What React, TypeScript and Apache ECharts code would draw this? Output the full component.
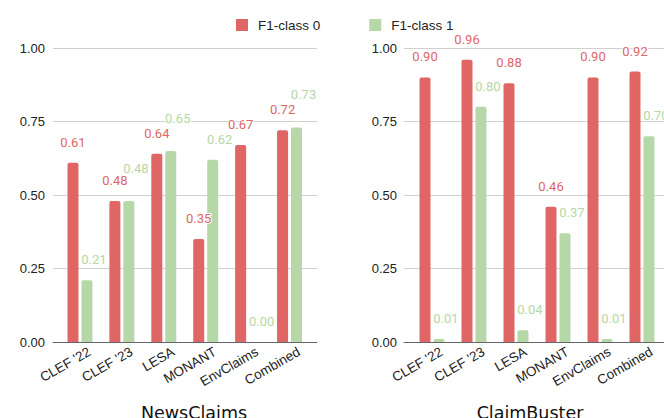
import React, { useEffect, useRef } from "react";
import * as echarts from "echarts";

const categories = ["CLEF '22", "CLEF '23", "LESA", "MONANT", "EnvClaims", "Combined"];
const seriesNames = ["F1-class 0", "F1-class 1"];
const newsClass0 = [0.61, 0.48, 0.64, 0.35, 0.67, 0.72];
const newsClass1 = [0.21, 0.48, 0.65, 0.62, 0.0, 0.73];
const busterClass0 = [0.9, 0.96, 0.88, 0.46, 0.9, 0.92];
const busterClass1 = [0.01, 0.8, 0.04, 0.37, 0.01, 0.7];
const panelTitles = ["NewsClaims", "ClaimBuster"];

const RED = "#e06666";
const GREEN = "#b6d7a8";
const AXIS_FONT = "'Liberation Sans', Arial, sans-serif";

export default function App() {
  const ref = useRef<HTMLDivElement>(null);
  useEffect(() => {
    document.body.style.margin = "0";
    const chart = echarts.init(ref.current!, null, { renderer: "svg" });

    const gridA = [
      { left: 53, width: 264, top: 48, height: 294 },
      { left: 404, width: 290, top: 48, height: 294 },
    ];
    const gridB = [
      { left: 59, width: 251.5, top: 48, height: 294 },
      { left: 411, width: 252, top: 48, height: 294 },
    ];
    const grids = [gridA[0], gridB[0], gridA[1], gridB[1]];

    const xAxes: any[] = [];
    const yAxes: any[] = [];
    [0, 1].forEach((p) => {
      xAxes.push({
        type: "category",
        gridIndex: p * 2,
        data: categories,
        axisLine: { show: true, lineStyle: { color: "#666", width: 1 } },
        axisTick: { show: false },
        axisLabel: { show: false },
        splitLine: { show: false },
      });
      yAxes.push({
        type: "value",
        gridIndex: p * 2,
        min: 0,
        max: 1,
        interval: 0.25,
        axisLine: { show: false },
        axisTick: { show: false },
        splitLine: { show: true, lineStyle: { color: "#d0d0d0", width: 1 } },
        axisLabel: {
          color: "#222",
          fontSize: 13,
          fontFamily: AXIS_FONT,
          margin: p === 0 ? 8 : 7,
          formatter: (v: number) => v.toFixed(2),
        },
      });
      xAxes.push({
        type: "category",
        gridIndex: p * 2 + 1,
        data: categories,
        axisLine: { show: false },
        axisTick: { show: false },
        splitLine: { show: false },
        axisLabel: {
          color: "#222",
          fontSize: 13.5,
          fontFamily: AXIS_FONT,
          rotate: 30,
          margin: 14,
          interval: 0,
          padding: [0, -11, 0, 0],
        },
      });
      yAxes.push({
        type: "value",
        gridIndex: p * 2 + 1,
        min: 0,
        max: 1,
        interval: 0.25,
        show: false,
      });
    });

    const labelBase = (color: string) => ({
      show: true,
      position: "top",
      distance: 14,
      color,
      fontSize: 13,
      fontFamily: "Roboto, Arial, sans-serif",
      textBorderColor: "#fff",
      textBorderWidth: 2,
      formatter: (p: any) => Number(p.value).toFixed(2),
    });

    const redSeries = (data: number[], axis: number) => ({
      type: "bar",
      name: seriesNames[0],
      data,
      xAxisIndex: axis,
      yAxisIndex: axis,
      barWidth: 11,
      barGap: "27%",
      itemStyle: { color: RED, borderRadius: [2, 2, 0, 0] },
      label: { ...labelBase(RED), offset: [0, 0] },
    });

    // green labels sit to the right; raised when they would collide with the red label
    const greenSeries = (data: number[], other: number[], axis: number) => ({
      type: "bar",
      name: seriesNames[1],
      data: data.map((v, i) => ({
        value: v,
        label: { offset: Math.abs(v - other[i]) < 0.05 ? [7, -12] : [7, 0] },
      })),
      xAxisIndex: axis,
      yAxisIndex: axis,
      barWidth: 11,
      barGap: "27%",
      itemStyle: { color: GREEN, borderRadius: [2, 2, 0, 0] },
      label: { ...labelBase(GREEN), offset: [7, 0] },
    });

    chart.setOption({
      animation: false,
      grid: grids,
      xAxis: xAxes,
      yAxis: yAxes,
      legend: {
        data: seriesNames,
        left: 236,
        top: 18,
        itemWidth: 12,
        itemHeight: 12,
        itemGap: 49,
        icon: "rect",
        padding: 0,
        textStyle: {
          color: "#222",
          fontSize: 13.5,
          fontFamily: AXIS_FONT,
          padding: [0, 0, 0, 5],
        },
      },
      series: [
        redSeries(newsClass0, 1),
        greenSeries(newsClass1, newsClass0, 1),
        redSeries(busterClass0, 3),
        greenSeries(busterClass1, busterClass0, 3),
      ],
      graphic: [
        {
          type: "text",
          x: 194,
          y: 413,
          style: {
            text: panelTitles[0],
            align: "center",
            verticalAlign: "middle",
            fill: "#111",
            fontSize: 17.5,
            fontFamily: "'DejaVu Sans', sans-serif",
          },
        },
        {
          type: "text",
          x: 530,
          y: 413,
          style: {
            text: panelTitles[1],
            align: "center",
            verticalAlign: "middle",
            fill: "#111",
            fontSize: 17.5,
            fontFamily: "'DejaVu Sans', sans-serif",
          },
        },
      ],
    });
    return () => chart.dispose();
  }, []);
  return <div ref={ref} style={{ width: 664, height: 418 }} />;
}
